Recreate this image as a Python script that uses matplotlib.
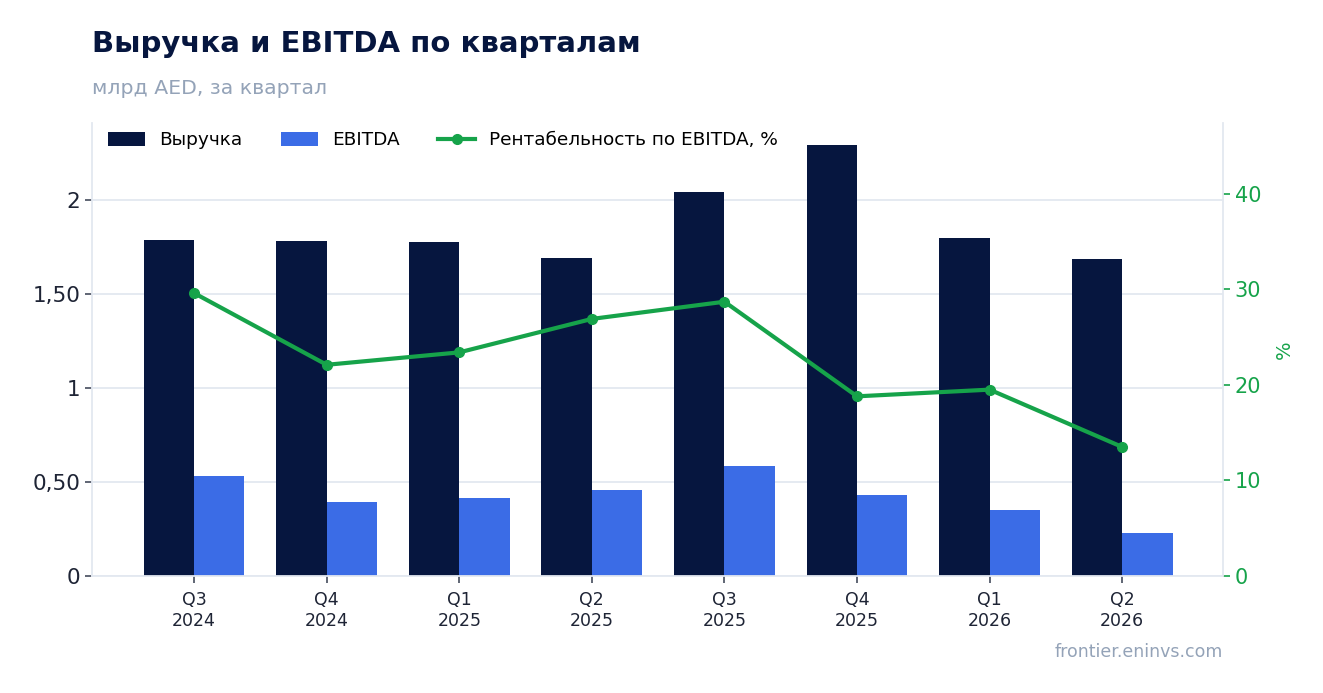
import matplotlib
matplotlib.use("Agg")
import matplotlib.pyplot as plt
from matplotlib.ticker import FixedLocator, FixedFormatter
import numpy as np

quarters = ["Q3\n2024", "Q4\n2024", "Q1\n2025", "Q2\n2025", "Q3\n2025", "Q4\n2025", "Q1\n2026", "Q2\n2026"]
revenue = [1.787, 1.782, 1.777, 1.691, 2.043, 2.293, 1.798, 1.686]
ebitda = [0.532, 0.394, 0.415, 0.457, 0.585, 0.431, 0.351, 0.229]
margin = [29.6, 22.1, 23.4, 26.9, 28.7, 18.8, 19.5, 13.5]
left_ticks = [0, 0.5, 1, 1.5, 2]
left_labels = ["0", "0,50", "1", "1,50", "2"]
right_ticks = [0, 10, 20, 30, 40]

NAVY = "#06163f"
BLUE = "#3b6ce6"
GREEN = "#16a34a"
GRID = "#e3e8f0"
GRAY = "#94a3b8"

plt.rcParams['font.family'] = ['DejaVu Sans']
fig = plt.figure(figsize=(13.23, 6.93), dpi=100)
ax = fig.add_axes([92/1323, 1 - 576/693, (1223-92)/1323, (576-123)/693])
x = np.arange(len(quarters))
w = 0.38
ax.bar(x - w/2, revenue, w, color=NAVY, label="Выручка", zorder=2)
ax.bar(x + w/2, ebitda, w, color=BLUE, label="EBITDA", zorder=2)
ax.set_xlim(-0.77, 7.76)
ax.set_ylim(0, 2.41)
ax.yaxis.set_major_locator(FixedLocator(left_ticks))
ax.yaxis.set_major_formatter(FixedFormatter(left_labels))
ax.set_xticks(x)
ax.set_xticklabels(quarters, fontsize=12.5, color="#1e2435")
ax.tick_params(axis='y', labelsize=15.5, colors="#1e2435", length=5, width=1.2, color="#444c5c")
ax.tick_params(axis='x', length=5, width=1.2, color="#444c5c", pad=6)
ax.grid(axis='y', color=GRID, linewidth=1.3, zorder=0)
ax.set_axisbelow(True)
for s in ["top", "right"]:
    ax.spines[s].set_visible(False)
for s in ["left", "bottom"]:
    ax.spines[s].set_color(GRID)
    ax.spines[s].set_linewidth(1.3)

ax2 = ax.twinx()
ln, = ax2.plot(x, margin, color=GREEN, linewidth=3, marker='o', markersize=7,
               label="Рентабельность по EBITDA, %", zorder=3)
ax2.set_ylim(0, 47.4)
ax2.set_yticks(right_ticks)
ax2.tick_params(axis='y', labelsize=15, colors=GREEN, length=5, width=1.2)
ax2.set_ylabel("%", color=GREEN, fontsize=14, labelpad=10)
for s in ["top", "left", "bottom"]:
    ax2.spines[s].set_visible(False)
ax2.spines["right"].set_color(GRID)
ax2.spines["right"].set_linewidth(1.3)

h1, l1 = ax.get_legend_handles_labels()
ax2.legend(h1 + [ln], l1 + [ln.get_label()], loc="upper left", ncol=3, frameon=False,
           fontsize=13.3, bbox_to_anchor=((101-92)/1131, 1 - 1/453), handlelength=2.0,
           handleheight=0.72, handletextpad=0.75, columnspacing=2.1, borderaxespad=0)

fig.text(92/1323, 1 - 44/693, "Выручка и EBITDA по кварталам", fontsize=21, fontweight="bold",
         color=NAVY, va="center", ha="left")
fig.text(92/1323, 1 - 88/693, "млрд AED, за квартал", fontsize=14.7, color=GRAY, va="center", ha="left")
fig.text(1223/1323, 1 - 652/693, "frontier.eninvs.com", fontsize=12.5, color=GRAY, va="center", ha="right")

fig.savefig("out.png", dpi=100, facecolor="white")
